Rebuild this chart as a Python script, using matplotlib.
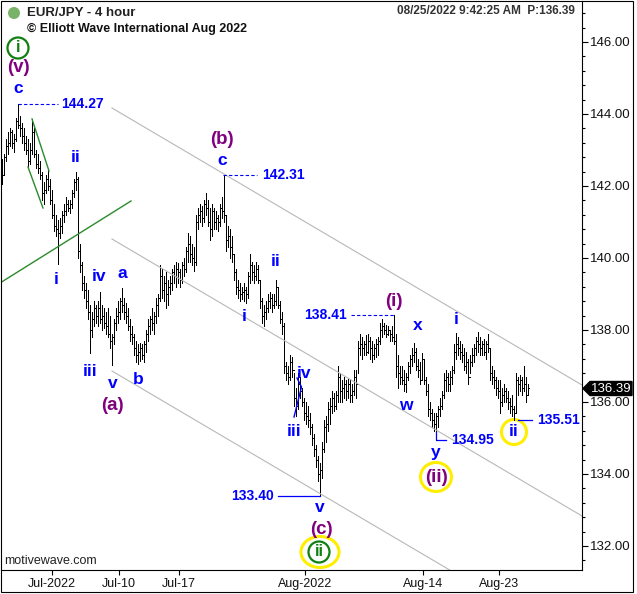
import matplotlib
matplotlib.use('Agg')
import matplotlib.pyplot as plt
from matplotlib.patches import Ellipse, Rectangle, Polygon
from matplotlib.ticker import MultipleLocator, FormatStrFormatter
import numpy as np

plt.rcParams['font.family'] = ['Liberation Sans', 'DejaVu Sans']

# EUR/JPY 4-hour bars
highs = [
    142.75, 142.9, 143.3, 143.5, 143.6, 143.55, 143.45, 143.9, 144.27, 143.95,
    143.75, 143.6, 143.4, 143.3, 143.2, 143.85, 143.6, 143.0, 142.9, 142.7,
    142.4, 142.1, 142.3, 142.45, 142.2, 141.9, 141.5, 141.2, 141.05, 141.1,
    141.3, 141.5, 141.7, 141.6, 141.6, 141.9, 142.2, 142.38, 142.25, 140.4,
    139.9, 139.5, 139.3, 139.1, 138.7, 138.5, 138.8, 138.7, 138.8, 139.05,
    138.7, 138.6, 138.5, 138.6, 138.4, 137.9, 138.3, 138.6, 138.8, 138.9,
    139.17, 138.9, 138.75, 138.6, 138.3, 138.1, 137.9, 137.7, 137.6, 137.65,
    137.6, 137.7, 138.0, 138.3, 138.4, 138.6, 138.5, 138.9, 139.0, 139.8,
    139.7, 139.5, 139.6, 139.4, 139.5, 139.7, 139.8, 139.9, 139.85, 139.7,
    139.9, 140.0, 140.3, 140.7, 140.6, 140.4, 140.3, 141.2, 141.4, 141.5,
    141.45, 141.6, 141.8, 141.6, 141.4, 141.5, 141.4, 141.3, 141.2, 141.5,
    141.7, 142.31, 141.2, 140.9, 140.8, 140.6, 140.1, 139.7, 139.4, 139.3,
    139.2, 139.3, 139.2, 139.6, 140.1, 139.9, 139.8, 139.9, 139.8, 139.4,
    138.9, 138.7, 138.8, 139.0, 139.05, 139.0, 139.0, 139.4, 139.2, 138.8,
    138.5, 138.2, 137.1, 137.0, 137.3, 137.25, 136.8, 136.4, 136.8, 136.7,
    136.4, 136.1, 136.0, 135.9, 135.7, 135.4, 135.1, 134.8, 134.5, 134.3,
    134.9, 135.5, 135.6, 136.0, 136.1, 136.3, 136.25, 136.3, 137.0, 136.8,
    136.6, 136.7, 136.6, 136.65, 136.6, 136.5, 136.9, 136.9, 137.7, 137.9,
    137.8, 137.7, 137.85, 137.9, 137.8, 137.7, 137.6, 137.75, 137.8, 138.2,
    138.3, 138.2, 138.15, 138.1, 138.0, 138.1, 138.41, 137.9, 137.3, 137.0,
    137.0, 136.9, 136.8, 137.1, 137.3, 137.5, 137.64, 137.5, 137.2, 137.1,
    137.36, 137.2, 136.7, 136.5, 136.0, 135.8, 135.7, 135.7, 135.9, 136.1,
    136.3, 136.8, 136.9, 136.8, 136.85, 137.0, 137.6, 137.92, 137.8, 137.7,
    137.6, 137.5, 137.4, 137.2, 137.3, 137.5, 137.6, 137.8, 137.94, 137.8,
    137.7, 137.75, 137.7, 137.9, 137.5, 137.0, 136.9, 136.7, 136.6, 136.6,
    136.4, 136.5, 136.4, 136.3, 136.1, 136.2, 135.9, 136.8, 136.7, 136.75,
    136.7, 137.0, 136.7, 136.5,
]
lows = [
    142.05, 142.3, 142.7, 142.9, 143.1, 143.05, 142.95, 143.25, 143.6, 143.4,
    143.2, 143.0, 142.9, 142.5, 142.6, 142.9, 142.8, 142.5, 142.35, 142.2,
    141.6, 141.5, 141.8, 141.9, 141.5, 141.1, 140.75, 140.6, 139.82, 140.55,
    140.7, 141.0, 141.2, 141.3, 141.25, 141.4, 141.7, 141.9, 140.0, 139.6,
    139.1, 138.9, 138.6, 138.3, 137.35, 137.8, 138.1, 138.2, 138.1, 138.2,
    138.0, 138.05, 137.9, 137.8, 137.5, 137.03, 137.6, 138.0, 138.2, 138.3,
    138.5, 138.3, 138.2, 138.0, 137.7, 137.6, 137.3, 137.1, 137.05, 137.15,
    137.2, 137.1, 137.4, 137.7, 137.9, 138.0, 137.9, 138.2, 138.4, 138.8,
    138.9, 138.8, 138.6, 138.7, 139.0, 139.1, 139.3, 139.2, 139.3, 139.2,
    139.3, 139.5, 139.6, 139.9, 139.9, 139.8, 139.65, 139.8, 140.8, 141.0,
    140.9, 141.0, 141.2, 140.9, 140.5, 140.6, 140.8, 140.8, 140.75, 140.9,
    141.1, 141.0, 140.2, 140.3, 140.0, 139.9, 139.4, 139.0, 138.9, 138.8,
    138.85, 138.8, 138.75, 138.9, 139.3, 139.4, 139.3, 139.4, 139.3, 138.6,
    138.2, 138.1, 138.3, 138.5, 138.6, 138.5, 138.6, 138.7, 138.6, 138.2,
    137.9, 136.8, 136.6, 136.5, 136.6, 136.7, 135.9, 135.6, 135.8, 136.1,
    135.9, 135.5, 135.4, 135.3, 135.1, 134.8, 134.5, 134.2, 133.8, 133.40,
    133.9, 134.6, 134.9, 135.2, 135.4, 135.7, 135.75, 135.8, 136.0, 136.0,
    136.0, 136.1, 136.05, 136.1, 136.0, 136.0, 136.2, 136.1, 136.8, 137.3,
    137.2, 137.3, 137.3, 137.35, 137.2, 137.1, 137.2, 137.25, 137.3, 137.6,
    137.8, 137.9, 137.8, 137.85, 137.7, 137.7, 137.6, 136.7, 136.4, 136.5,
    136.5, 136.3, 136.28, 136.6, 136.8, 137.0, 137.1, 136.9, 136.7, 136.5,
    136.6, 136.5, 136.2, 135.6, 135.5, 135.3, 135.2, 134.95, 135.3, 135.6,
    135.8, 136.1, 136.3, 136.3, 136.3, 136.5, 136.8, 137.2, 137.3, 137.2,
    137.1, 136.9, 136.8, 136.5, 136.8, 137.0, 137.1, 137.3, 137.4, 137.3,
    137.3, 137.3, 137.2, 137.4, 136.6, 136.5, 136.4, 136.2, 136.1, 135.7,
    135.9, 136.0, 136.0, 135.8, 135.7, 135.6, 135.51, 135.7, 136.2, 136.3,
    136.2, 136.3, 136.0, 136.2,
]
closes = [
    142.3, 142.8, 143.1, 143.2, 143.5, 143.2, 143.3, 143.8, 143.7, 143.6,
    143.4, 143.2, 143.0, 142.7, 143.0, 143.5, 142.9, 142.6, 142.5, 142.3,
    141.8, 141.9, 142.2, 142.0, 141.6, 141.2, 140.9, 140.8, 140.7, 140.9,
    141.2, 141.3, 141.5, 141.4, 141.5, 141.8, 142.1, 142.2, 140.2, 139.8,
    139.3, 139.1, 138.8, 138.5, 138.0, 138.3, 138.6, 138.4, 138.6, 138.3,
    138.4, 138.2, 138.1, 137.9, 137.7, 137.8, 138.2, 138.4, 138.5, 138.8,
    138.7, 138.5, 138.4, 138.1, 137.9, 137.8, 137.5, 137.3, 137.4, 137.5,
    137.3, 137.6, 137.9, 138.1, 138.3, 138.2, 138.4, 138.7, 138.9, 139.5,
    139.1, 139.3, 139.0, 139.2, 139.3, 139.6, 139.5, 139.7, 139.6, 139.4,
    139.8, 139.7, 140.2, 140.4, 140.1, 140.0, 139.9, 141.0, 141.2, 141.3,
    141.1, 141.5, 141.4, 141.0, 140.8, 141.3, 141.0, 141.1, 141.0, 141.4,
    141.3, 141.2, 140.5, 140.6, 140.3, 140.1, 139.6, 139.2, 139.1, 139.0,
    139.05, 139.1, 139.0, 139.5, 139.8, 139.6, 139.5, 139.7, 139.4, 138.8,
    138.4, 138.5, 138.6, 138.8, 138.9, 138.7, 138.8, 139.2, 138.7, 138.3,
    138.1, 137.0, 136.8, 136.7, 137.1, 136.9, 136.1, 135.9, 136.5, 136.3,
    136.0, 135.7, 135.6, 135.5, 135.3, 135.0, 134.7, 134.4, 134.0, 134.1,
    134.7, 135.3, 135.4, 135.8, 135.9, 136.1, 135.9, 136.2, 136.7, 136.3,
    136.4, 136.5, 136.3, 136.5, 136.2, 136.3, 136.7, 136.5, 137.5, 137.6,
    137.5, 137.6, 137.4, 137.7, 137.5, 137.3, 137.5, 137.6, 137.7, 138.0,
    138.1, 138.0, 137.9, 138.0, 137.9, 137.8, 137.7, 137.0, 136.8, 136.7,
    136.6, 136.5, 136.7, 137.0, 137.2, 137.3, 137.4, 137.0, 136.9, 136.6,
    137.2, 136.6, 136.3, 135.8, 135.7, 135.5, 135.4, 135.6, 135.8, 135.9,
    136.2, 136.6, 136.7, 136.5, 136.7, 136.9, 137.4, 137.6, 137.5, 137.4,
    137.3, 137.0, 137.1, 136.7, 137.1, 137.3, 137.5, 137.7, 137.6, 137.5,
    137.6, 137.4, 137.6, 137.5, 136.8, 136.7, 136.6, 136.4, 136.3, 136.0,
    136.2, 136.3, 136.1, 136.0, 135.9, 135.8, 135.7, 136.6, 136.5, 136.6,
    136.4, 136.5, 136.2, 136.39,
]
first_open = 142.6

date_labels = ['Jul-2022', 'Jul-10', 'Jul-17', 'Aug-2022', 'Aug-14', 'Aug-23']
date_bars = [25, 58.5, 88.5, 151.5, 210.5, 248.5]

last_price = 136.39
price_marks = ['144.27', '142.31', '138.41', '133.40', '134.95', '135.51']

W, H = 637, 594
BLUE = '#0000ff'
PURPLE = '#800080'
GREEN = '#108010'
YELLOW = '#ffee00'


def dx(px):
    # screen pixel -> bar index
    return (px - 2) / 2.0


def dy(py):
    # screen pixel -> price
    return 146 - (py - 42) / 36.0


def fx(px):
    return px / W


def fy(py):
    return 1 - py / H


fig = plt.figure(figsize=(W / 100, H / 100), dpi=100)
ax = fig.add_axes([fx(1), fy(570), (582 - 1) / W, (570 - 1) / H])

x = np.arange(len(highs))
opens = np.r_[first_open, closes[:-1]]
ax.vlines(x, lows, highs, color='black', lw=0.6, antialiased=False)
ax.hlines(opens, x - 0.5, x, color='black', lw=0.6, antialiased=False)
ax.hlines(closes, x, x + 0.5, color='black', lw=0.6, antialiased=False)

ax.set_xlim(dx(1), dx(582))
ax.set_ylim(dy(570), dy(1))

# channel lines
for y0, y1 in [(108, 385), (239, 516), (371, 648)]:
    ax.plot([dx(112), dx(582)], [dy(y0), dy(y1)], color='#b8b8b8', lw=0.8)

# green trend lines
ax.plot([dx(0), dx(131)], [dy(283), dy(201)], color='#2a8a2a', lw=1.0)
ax.plot([dx(32), dx(49)], [dy(119), dy(171)], color='#2a8a2a', lw=1.0)
ax.plot([dx(28), dx(43)], [dy(167), dy(208)], color='#2a8a2a', lw=1.0)

# small blue wave-iv marker
ax.plot([dx(297), dx(301.5), dx(294)], [dy(378), dy(387), dy(417)], color=BLUE, lw=1.0)

# price level markers
mk = dict(color=BLUE, fontsize=10, fontweight='bold', va='center')
p = [float(v) for v in price_marks]
ax.plot([dx(18), dx(58)], [p[0], p[0]], color=BLUE, lw=0.8, ls=(0, (3, 2)))
ax.text(dx(61), p[0], price_marks[0], ha='left', **mk)
ax.plot([dx(223), dx(257)], [p[1], p[1]], color=BLUE, lw=0.8, ls=(0, (3, 2)))
ax.text(dx(262), p[1], price_marks[1], ha='left', **mk)
ax.plot([dx(351), dx(394)], [p[2], p[2]], color=BLUE, lw=0.8, ls=(0, (3, 2)))
ax.text(dx(347), p[2], price_marks[2], ha='right', **mk)
ax.plot([dx(278), dx(320)], [p[3], p[3]], color=BLUE, lw=0.9)
ax.text(dx(274), p[3], price_marks[3], ha='right', **mk)
ax.plot([dx(436), dx(436), dx(446)], [dy(432), p[4], p[4]], color=BLUE, lw=0.9)
ax.text(dx(451), p[4], price_marks[4], ha='left', **mk)
ax.plot([dx(518), dx(532)], [p[5], p[5]], color=BLUE, lw=0.9)
ax.text(dx(537), p[5], price_marks[5], ha='left', **mk)

# wave labels
waves = [
    ('(v)', PURPLE, 18, 68), ('c', BLUE, 18, 89), ('ii', BLUE, 76, 157),
    ('i', BLUE, 56, 279), ('iv', BLUE, 99, 277), ('a', BLUE, 122, 274),
    ('iii', BLUE, 90, 371), ('v', BLUE, 113, 383), ('b', BLUE, 138, 379),
    ('(a)', PURPLE, 112, 406), ('(b)', PURPLE, 222, 140), ('c', BLUE, 222, 161),
    ('ii', BLUE, 276, 261), ('i', BLUE, 244, 317), ('iv', BLUE, 304, 373),
    ('iii', BLUE, 294, 432), ('v', BLUE, 320, 508), ('(c)', PURPLE, 321, 530),
    ('(i)', PURPLE, 394, 301), ('x', BLUE, 418, 326), ('w', BLUE, 406, 405),
    ('i', BLUE, 456, 320), ('y', BLUE, 436, 453), ('(ii)', PURPLE, 436, 477),
    ('ii', BLUE, 514, 432),
]
for s, c, px, py in waves:
    fs = 13.5 if c == PURPLE else 12.5
    ax.text(dx(px), dy(py), s, color=c, fontsize=fs, fontweight='bold',
            ha='center', va='center')

# yellow highlight rings
for cx, cy, w, h in [(436, 477, 31, 29), (514, 432, 25, 25), (320, 552, 38, 31)]:
    ax.add_patch(Ellipse((dx(cx), dy(cy)), w / 2.0, h / 36.0, fill=False,
                         ec=YELLOW, lw=2.2, clip_on=False))

# green circled degree labels
for s, cx, cy in [('i', 18, 48), ('ii', 319, 552)]:
    ax.add_patch(Ellipse((dx(cx), dy(cy)), 21 / 2.0, 21 / 36.0, fill=False,
                         ec=GREEN, lw=1.6, clip_on=False))
    ax.text(dx(cx), dy(cy), s, color=GREEN, fontsize=12, fontweight='bold',
            ha='center', va='center')

# axes styling
for side in ['top', 'left']:
    ax.spines[side].set_visible(False)
for side in ['right', 'bottom']:
    ax.spines[side].set_linewidth(0.8)
ax.yaxis.tick_right()
ax.yaxis.set_major_locator(MultipleLocator(2))
ax.yaxis.set_minor_locator(MultipleLocator(0.4))
ax.yaxis.set_major_formatter(FormatStrFormatter('%.2f'))
ax.tick_params(axis='y', which='major', length=4.5, width=0.8, pad=1,
               labelsize=9.5, labelcolor='#111111')
ax.tick_params(axis='y', which='minor', length=2.2, width=0.8)
ax.set_xticks(date_bars)
ax.set_xticklabels(date_labels)
ax.tick_params(axis='x', length=3.6, width=0.8, pad=2, labelsize=9,
               labelcolor='#111111')

# current price tag on the axis
tag = [(583, 388.5), (590, 381.5), (632, 381.5), (632, 395.5), (590, 395.5)]
fig.patches.append(Polygon([(fx(a), fy(b)) for a, b in tag], closed=True,
                           transform=fig.transFigure, fc='black', ec='black'))
fig.text(fx(611), fy(388.5), f'{last_price:.2f}', color='white', fontsize=9.5,
         ha='center', va='center')

# outer frame
fig.patches.append(Rectangle((fx(0.5), fy(591.5)), 632 / W, 591 / H,
                             transform=fig.transFigure, fill=False,
                             ec='black', lw=0.8))

# header / footer text
fig.patches.append(Ellipse((fx(14), fy(13)), 12 / W, 12 / H,
                           transform=fig.transFigure, fc='#79b36a', ec='none'))
fig.text(fx(27), fy(13), 'EUR/JPY - 4 hour', fontsize=9.5, fontweight='bold',
         color='#222222', ha='left', va='center')
fig.text(fx(27), fy(29), '\u00a9 Elliott Wave International Aug 2022',
         fontsize=9, fontweight='bold', color='#111111', ha='left', va='center')
fig.text(fx(575), fy(11), '08/25/2022 9:42:25 AM  P:136.39', fontsize=8.5,
         fontweight='bold', color='#333333', ha='right', va='center')
fig.text(fx(4), fy(561), 'motivewave.com', fontsize=9, color='#222222',
         ha='left', va='center')

fig.savefig('out.png', dpi=100)
